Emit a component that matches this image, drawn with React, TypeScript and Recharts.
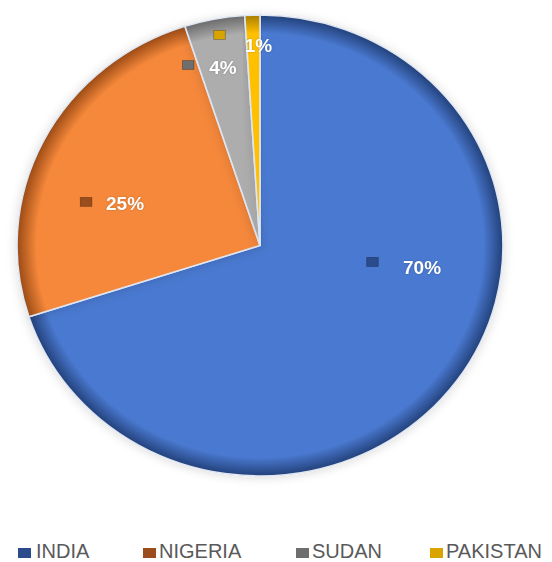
import { PieChart, Pie, Cell } from 'recharts';

const countries = ['INDIA', 'NIGERIA', 'SUDAN', 'PAKISTAN'];
const shares = [70, 25, 4, 1];
const colors = ['#4A79D0', '#F5883A', '#ADADAD', '#FFC000'];
const edgeColors = ['#23417A', '#9A4A16', '#6A6A6A', '#A77D00'];
const keyColors = ['#2B4C8C', '#9B4E1C', '#6E6E6E', '#D9A300'];

// label placement tweaks (angle shift from mid-angle, radius fraction, key offset)
const labelTweak = [
  { da: 27.7, f: 0.674, kx: -47, ky: -6 },
  { da: 9.0, f: 0.584, kx: -37, ky: -2 },
  { da: 0.4, f: 0.785, kx: -33, ky: -3 },
  { da: -1.4, f: 0.866, kx: -37, ky: -11 },
];

const data = countries.map((name, i) => ({ name, value: shares[i] }));

const RAD = Math.PI / 180;

function renderLabel(props: any) {
  const { cx, cy, midAngle, outerRadius, index, value } = props;
  const t = labelTweak[index];
  const a = (midAngle + t.da) * RAD;
  const r = outerRadius * t.f;
  const x = cx + r * Math.cos(a);
  const y = cy - r * Math.sin(a);
  return (
    <g>
      <rect
        x={x + t.kx - 5.5}
        y={y + t.ky - 4.5}
        width={11}
        height={9}
        fill={keyColors[index]}
        stroke="rgba(0,0,0,0.3)"
        strokeWidth={0.8}
      />
      <text
        x={x}
        y={y}
        fill="#fff"
        textAnchor="middle"
        dominantBaseline="central"
        fontFamily="'Liberation Sans', Arial, sans-serif"
        fontWeight="bold"
        fontSize={18}
        style={{ textShadow: '0 0 2px rgba(0,0,0,0.25)' }}
      >
        {`${value}%`}
      </text>
    </g>
  );
}

export default function App() {
  const cx = 260;
  const cy = 245.5;
  const outer = 230.5;
  return (
    <div style={{ position: 'absolute', left: 0, top: 0, width: 552, height: 562, background: '#fff', overflow: 'hidden' }}>
      <div style={{ transform: 'scaleX(1.054)', transformOrigin: `${cx}px 0px` }}>
        <PieChart width={552} height={520} margin={{ top: 0, right: 0, bottom: 0, left: 0 }}>
          <defs>
            {colors.map((c, i) => (
              <radialGradient key={c} id={`slice${i}`} gradientUnits="userSpaceOnUse" cx={cx} cy={cy} r={outer}>
                <stop offset="0%" stopColor={c} />
                <stop offset="92%" stopColor={c} />
                <stop offset="100%" stopColor={edgeColors[i]} />
              </radialGradient>
            ))}
            <filter id="pieShadow" x="-10%" y="-10%" width="120%" height="120%">
              <feDropShadow dx="0" dy="1" stdDeviation="5" floodColor="#000" floodOpacity="0.15" />
            </filter>
          </defs>
          <Pie
            data={data}
            dataKey="value"
            nameKey="name"
            cx={cx}
            cy={cy}
            outerRadius={outer}
            startAngle={90}
            endAngle={-270}
            stroke="#dfe6f2"
            strokeWidth={1.5}
            label={renderLabel}
            labelLine={false}
            isAnimationActive={false}
            style={{ filter: 'url(#pieShadow)' }}
          >
            {data.map((d, i) => (
              <Cell key={d.name} fill={`url(#slice${i})`} />
            ))}
          </Pie>
        </PieChart>
      </div>
      {countries.map((name, i) => (
        <div
          key={name}
          style={{
            position: 'absolute',
            top: 541,
            left: [18, 143, 296, 430][i],
            display: 'flex',
            alignItems: 'center',
            lineHeight: '20px',
            fontFamily: "'Liberation Sans', Arial, sans-serif",
            fontSize: 20,
            color: '#595959',
          }}
        >
          <span
            style={{
              display: 'inline-block',
              width: 13,
              height: 10,
              marginTop: 3,
              background: keyColors[i],
              marginRight: i === 0 ? 5 : 3,
            }}
          />
          <span>{name}</span>
        </div>
      ))}
    </div>
  );
}
